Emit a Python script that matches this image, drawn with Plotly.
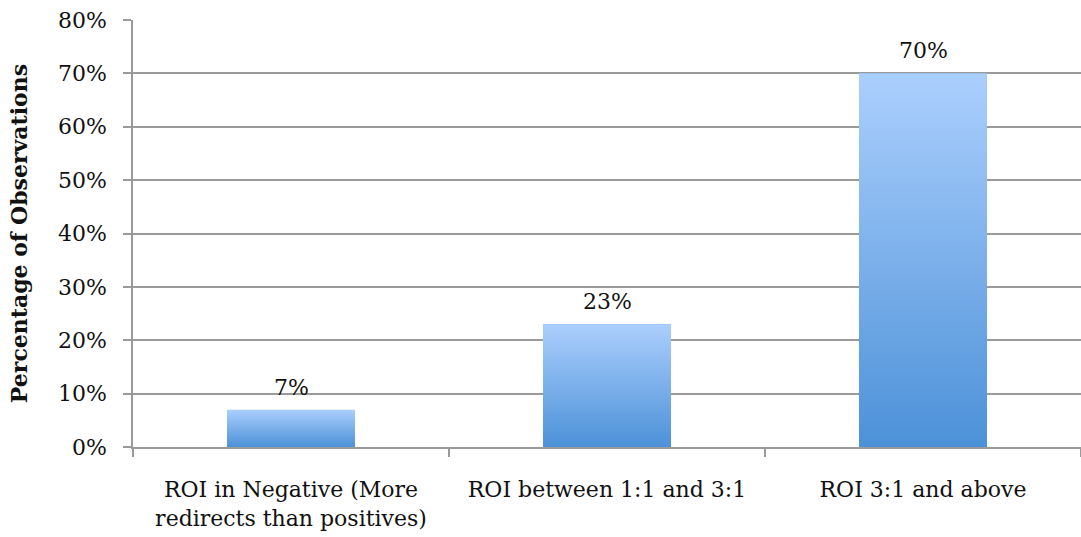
import plotly.graph_objects as go

# Share of observations by ROI bucket
categories = [
    "ROI in Negative (More<br>redirects than positives)",
    "ROI between 1:1 and 3:1",
    "ROI 3:1 and above",
]
values = [7, 23, 70]
labels = ["7%", "23%", "70%"]
y_ticks = [0, 10, 20, 30, 40, 50, 60, 70, 80]
y_tick_text = ["0%", "10%", "20%", "30%", "40%", "50%", "60%", "70%", "80%"]

BAR_WIDTH = 0.405
TOP_COLOR = "#abcffd"
BOTTOM_COLOR = "#4c91d8"
GRID = "#9a9a9a"
FONT = "DejaVu Serif"
SIZE = 22

positions = list(range(len(categories)))

fig = go.Figure()

# Base bars (carry the values and hover)
fig.add_trace(go.Bar(
    x=positions, y=values, width=BAR_WIDTH,
    marker=dict(color="#7fb3ec", line=dict(width=0)),
    hoverinfo="y", showlegend=False,
))

# Vertical gradient overlay for each bar, spanning that bar's own height
for pos, val in zip(positions, values):
    x0, x1 = pos - BAR_WIDTH / 2, pos + BAR_WIDTH / 2
    fig.add_trace(go.Scatter(
        x=[x0, x1, x1, x0, x0], y=[0, 0, val, val, 0],
        mode="lines", fill="toself", line=dict(width=0),
        fillgradient=dict(type="vertical",
                          colorscale=[[0, BOTTOM_COLOR], [1, TOP_COLOR]]),
        hoverinfo="skip", showlegend=False,
    ))

# Value labels above bars
for pos, val, lab in zip(positions, values, labels):
    fig.add_annotation(x=pos, y=val, text=lab, showarrow=False,
                       yanchor="bottom", yshift=8,
                       font=dict(family=FONT, size=SIZE, color="#111111"))

fig.update_layout(
    width=1081, height=537,
    margin=dict(l=133, r=0, t=20, b=90),
    paper_bgcolor="white", plot_bgcolor="white",
    font=dict(family=FONT, size=SIZE, color="#111111"),
    bargap=0,
)

fig.update_xaxes(
    range=[-0.5, 2.5], tickmode="array", tickvals=positions, ticktext=categories,
    ticks="", showgrid=False, zeroline=False,
    showline=True, linecolor=GRID, linewidth=1.5,
    ticklabelstandoff=22,
    minor=dict(tickmode="array", tickvals=[-0.5, 0.5, 1.5, 2.5],
               ticks="outside", ticklen=8, tickcolor=GRID, tickwidth=1.5,
               showgrid=False),
    automargin=False,
)

fig.update_yaxes(
    range=[0, 80], tickmode="array", tickvals=y_ticks, ticktext=y_tick_text,
    ticks="outside", ticklen=8, tickcolor=GRID, tickwidth=1.5,
    showgrid=True, gridcolor=GRID, gridwidth=1.5,
    zeroline=False, showline=True, linecolor=GRID, linewidth=1.5,
    ticklabelstandoff=12,
    title=dict(text="<b>Percentage of Observations</b>",
               font=dict(family=FONT, size=SIZE, color="#111111"), standoff=24),
    automargin=False,
)

fig.write_html("out.html")
